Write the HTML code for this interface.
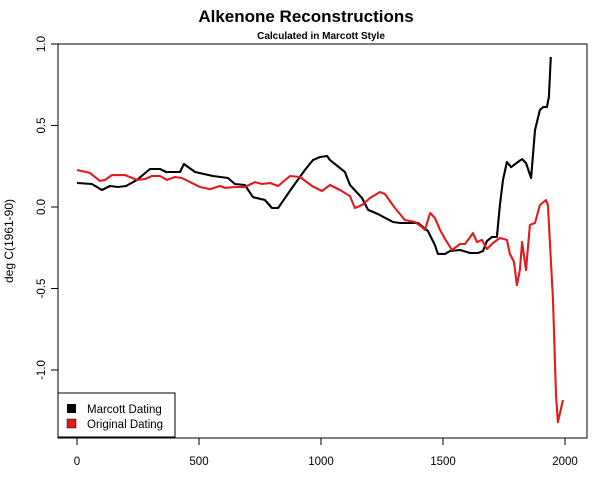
<!DOCTYPE html>
<html><head><meta charset="utf-8"><style>body{margin:0;background:#fff}svg{display:block;font-family:"Liberation Sans",Arial,sans-serif}</style></head>
<body>
<svg id="chart" width="600" height="480" xmlns="http://www.w3.org/2000/svg">
<text x="306" y="22" text-anchor="middle" font-size="17" font-weight="bold">Alkenone Reconstructions</text>
<text x="321" y="39" text-anchor="middle" font-size="10" font-weight="bold">Calculated in Marcott Style</text>
<rect x="58" y="44" width="529" height="394" fill="none" stroke="#000"/>
<text transform="translate(13,241) rotate(-90)" text-anchor="middle" font-size="12">deg C(1961-90)</text>
<g id="axes"></g>
<g id="series"></g>
<g>
<rect x="58" y="393" width="117" height="44" fill="#fff" stroke="#000"/>
<rect x="67" y="404" width="9" height="9" fill="#000"/>
<text x="87" y="413" font-size="11.5">Marcott Dating</text>
<rect x="67" y="419" width="9" height="9" fill="#e31a1c" stroke="#000" stroke-width="0.5"/>
<text x="87" y="428" font-size="11.5">Original Dating</text>
</g>
</svg>
<script>
const xTicks=[0,500,1000,1500,2000];
const yTicks=[1.0,0.5,0.0,-0.5,-1.0];
const yTickLabels=["1.0","0.5","0.0","-0.5","-1.0"];
const marcottYears=[0,61,102,135,168,201,246,299,340,365,422,438,484,557,619,647,688,721,770,799,824,881,934,967,996,1025,1037,1098,1119,1168,1193,1233,1295,1324,1397,1438,1467,1479,1508,1529,1570,1611,1643,1664,1680,1701,1721,1733,1746,1762,1779,1807,1824,1840,1861,1877,1897,1910,1926,1934,1942];
const marcottValues=[0.147,0.141,0.104,0.129,0.123,0.129,0.166,0.233,0.233,0.215,0.215,0.264,0.215,0.190,0.178,0.141,0.135,0.061,0.043,-0.006,-0.006,0.117,0.227,0.288,0.307,0.313,0.288,0.215,0.135,0.055,-0.018,-0.043,-0.092,-0.098,-0.098,-0.147,-0.233,-0.288,-0.288,-0.270,-0.264,-0.282,-0.282,-0.270,-0.209,-0.184,-0.184,0.012,0.166,0.276,0.245,0.276,0.294,0.270,0.178,0.472,0.595,0.613,0.613,0.675,0.920];
const originalYears=[0,53,94,115,143,197,246,279,307,340,369,402,430,463,504,545,586,607,647,688,729,758,791,824,873,914,963,1004,1037,1078,1119,1139,1168,1201,1242,1262,1303,1344,1385,1414,1426,1447,1467,1488,1508,1537,1570,1590,1623,1639,1660,1680,1705,1733,1762,1774,1791,1803,1815,1824,1840,1856,1877,1897,1922,1930,1951,1963,1971,1992];
const originalValues=[0.227,0.209,0.160,0.166,0.196,0.196,0.166,0.172,0.190,0.190,0.166,0.184,0.178,0.153,0.123,0.110,0.129,0.117,0.123,0.123,0.153,0.141,0.147,0.129,0.190,0.184,0.129,0.098,0.135,0.104,0.067,-0.006,0.012,0.055,0.092,0.080,-0.006,-0.080,-0.092,-0.123,-0.141,-0.037,-0.067,-0.141,-0.196,-0.264,-0.227,-0.227,-0.160,-0.215,-0.202,-0.258,-0.221,-0.190,-0.202,-0.288,-0.337,-0.479,-0.387,-0.215,-0.387,-0.110,-0.098,0.012,0.043,0.012,-0.571,-1.153,-1.320,-1.184];
const NS="http://www.w3.org/2000/svg";
function xs(v){return 77+v*0.244;}
function ys(v){return 207-v*163;}
const axes=document.getElementById('axes');
function mk(tag,attrs,parent){const e=document.createElementNS(NS,tag);for(const k in attrs)e.setAttribute(k,attrs[k]);parent.appendChild(e);return e;}
xTicks.forEach(t=>{
  const l=mk('line',{x1:xs(t),x2:xs(t),y1:438,y2:445,stroke:'#000'},axes);
  
  
  const tx=mk('text',{x:xs(t),y:465,'text-anchor':'middle','font-size':11.5},axes);
  tx.textContent=t;
  
  
});
yTicks.forEach((t,i)=>{
  const l=mk('line',{x1:51,x2:58,y1:ys(t),y2:ys(t),stroke:'#000'},axes);
  
  
  const tx=mk('text',{transform:`translate(45,${ys(t)}) rotate(-90)`,'text-anchor':'middle','font-size':11.5},axes);
  tx.textContent=yTickLabels[i];
  
  
});
const series=document.getElementById('series');
function line(xsArr,vals,color,name){
  const d=xsArr.map((x,i)=>(i?'L':'M')+xs(x).toFixed(1)+','+ys(vals[i]).toFixed(1)).join('');
  const p=mk('path',{d:d,fill:'none',stroke:color,'stroke-width':2.1,'stroke-linejoin':'round'},series);
  
  
}
line(marcottYears,marcottValues,'#000','marcott-dating-line');
line(originalYears,originalValues,'#e31a1c','original-dating-line');
</script>
</body></html>
